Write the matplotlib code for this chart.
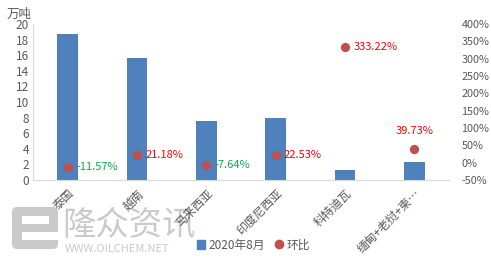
import numpy as np
import matplotlib.pyplot as plt
from matplotlib.patches import FancyBboxPatch, Rectangle

plt.rcParams['font.family'] = ['Noto Sans CJK SC', 'DejaVu Sans']

categories = ['泰国', '越南', '马来西亚', '印度尼西亚', '科特迪瓦', '缅甸+老挝+柬…']
volume = [18.7, 15.6, 7.56, 7.95, 1.28, 2.3]      # 万吨, 2020年8月
mom = [-11.57, 21.18, -7.64, 22.53, 333.22, 39.73]  # 环比 %

bar_color = '#4F81BD'
dot_color = '#C0504D'
grey = '#595959'
wm = '#CACACA'

W, H = 491, 265
fig = plt.figure(figsize=(W / 100, H / 100), dpi=100)

# watermark (drawn behind everything)
wax = fig.add_axes([0, 0, 1, 1], zorder=0)
wax.set_xlim(0, W)
wax.set_ylim(H, 0)
wax.axis('off')
wax.add_patch(FancyBboxPatch((12, 207), 46, 42, boxstyle='round,pad=0,rounding_size=5',
                             color=wm, lw=0))
wax.add_patch(Rectangle((22, 216), 27, 8, color='white', lw=0))
wax.add_patch(Rectangle((22, 232), 36, 8, color='white', lw=0))
wax.text(62, 225, '隆众资讯', fontsize=24, color=wm, va='center', ha='left')
wax.text(65, 249, 'WWW.OILCHEM.NET', fontsize=8, color=wm, va='center', ha='left')

ax = fig.add_axes([33 / W, 1 - 180 / H, 416 / W, 156 / H], zorder=1)
ax.patch.set_alpha(0)
x = np.arange(len(categories))
ax.bar(x, volume, width=0.3, color=bar_color, zorder=2)
ax.set_xlim(-0.5, len(categories) - 0.5)
ax.set_ylim(0, 20)
ax.set_yticks(range(0, 21, 2))
ax.set_xticks(x)
ax.set_xticklabels(categories, rotation=45, ha='right', rotation_mode='anchor',
                   fontsize=8.5, color=grey)
ax.tick_params(axis='y', length=0, labelsize=8.5, colors=grey, pad=3)
ax.tick_params(axis='x', length=0, labelsize=8.5, colors=grey, pad=5)
for s in ['top', 'right']:
    ax.spines[s].set_visible(False)
for s in ['left', 'bottom']:
    ax.spines[s].set_color('#D9D9D9')

ax2 = ax.twinx()
ax2.scatter(x, mom, s=32, color=dot_color, zorder=3)
ax2.set_ylim(-50, 400)
ax2.set_yticks(range(-50, 401, 50))
ax2.set_yticklabels(['%d%%' % v for v in range(-50, 401, 50)])
ax2.tick_params(axis='y', length=0, labelsize=7.8, colors=grey, pad=9)
for s in ax2.spines.values():
    s.set_visible(False)

for i, v in enumerate(mom):
    col = '#00B050' if v < 0 else '#FF0000'
    if i == len(mom) - 1:
        ax2.annotate('%.2f%%' % v, (x[i], v), xytext=(0, 9), textcoords='offset points',
                     ha='center', va='bottom', fontsize=8, color=col)
    else:
        ax2.annotate('%.2f%%' % v, (x[i], v), xytext=(6, 0), textcoords='offset points',
                     ha='left', va='center', fontsize=8, color=col)

fig.text(7 / W, 1 - 14 / H, '万吨', fontsize=9, color=grey, va='center')

h1 = Rectangle((0, 0), 1, 1, color=bar_color)
h2 = plt.Line2D([], [], marker='o', ls='', color=dot_color, markersize=6)
fig.legend([h1, h2], ['2020年8月', '环比'], loc='center left',
           bbox_to_anchor=(186 / W, 1 - 245 / H), ncol=2, frameon=False,
           fontsize=8.5, handlelength=0.7, handletextpad=0.3, columnspacing=0.8,
           labelcolor=grey)

fig.savefig('out.png', dpi=100)
